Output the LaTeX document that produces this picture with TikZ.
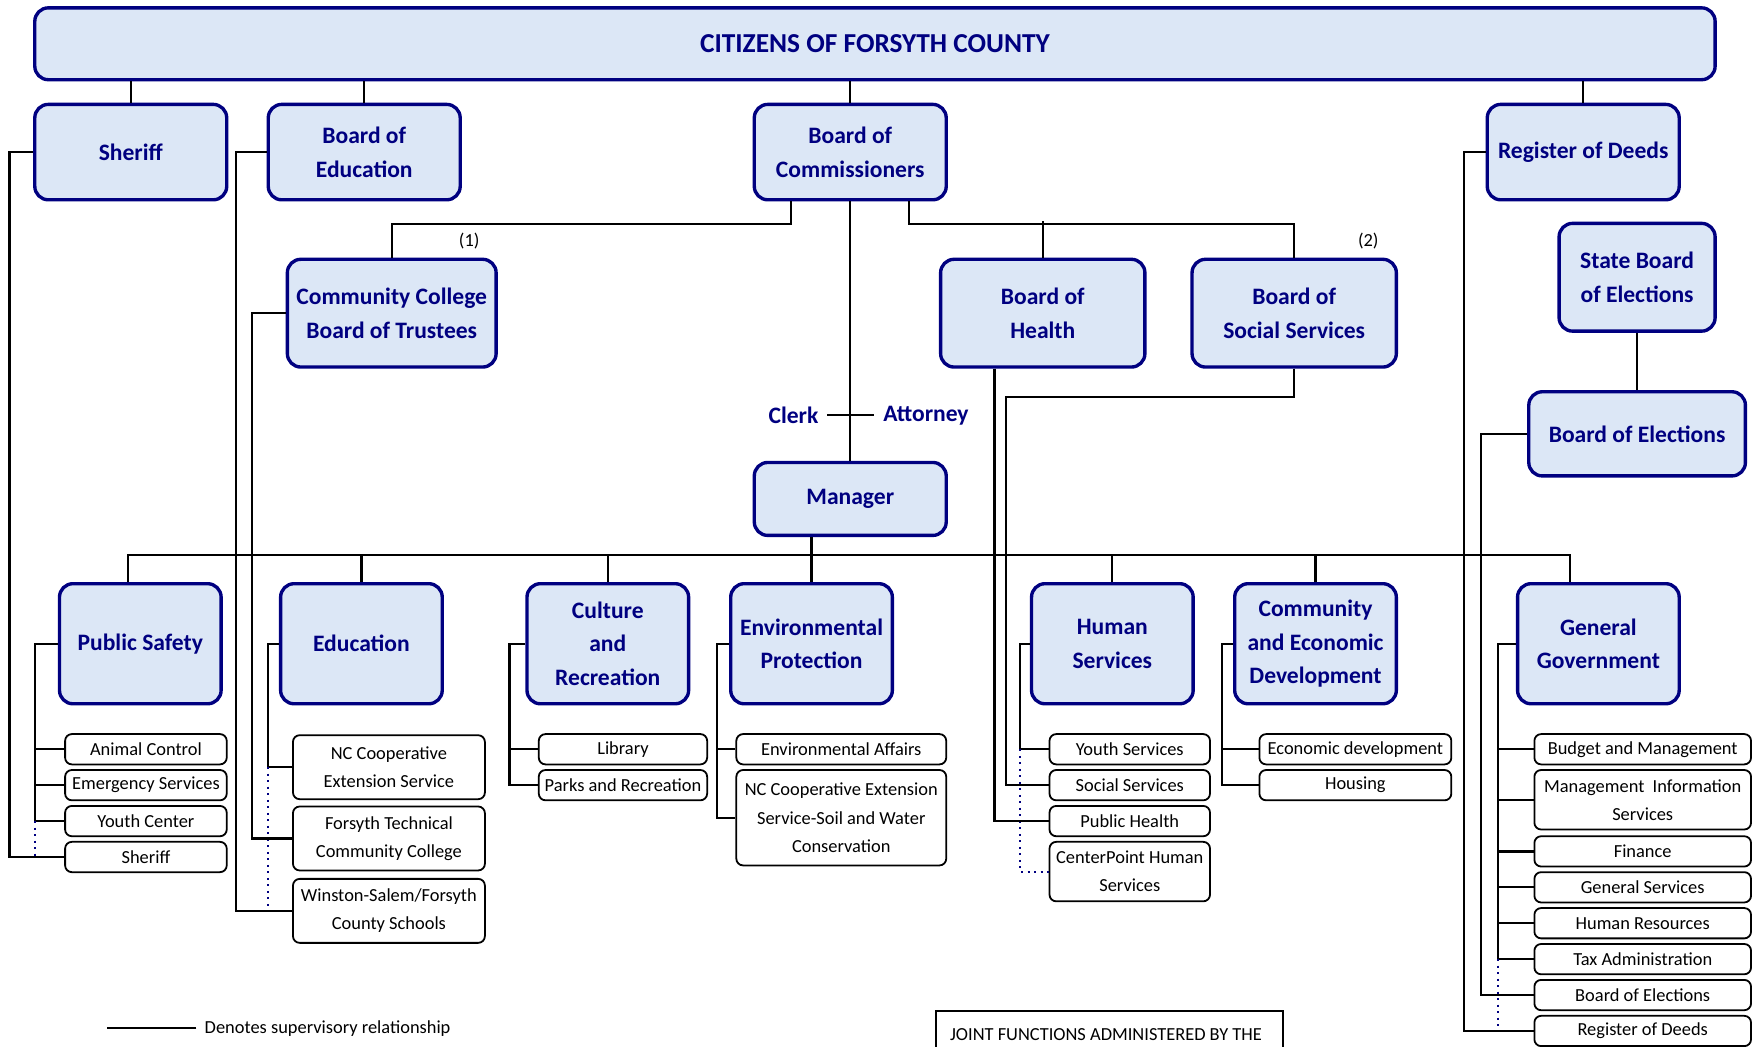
\documentclass[tikz,border=0pt]{standalone}
\usepackage{fontspec}
\setmainfont{Carlito}
\usetikzlibrary{calc}
\definecolor{navyc}{RGB}{0,0,128}
\definecolor{paleblue}{RGB}{220,231,246}
\newcommand{\hdfont}{\fontsize{10.5}{15}\selectfont\bfseries}
\newcommand{\deptfont}{\fontsize{8.2}{12.5}\selectfont}

\begin{document}
\begin{tikzpicture}[x=0.5pt, y=-0.5pt,
	head/.style = {draw=navyc, line width=1.5pt, fill=paleblue, rounded corners=6pt, text=navyc, font=\hdfont, align=center, inner sep=0pt, minimum width=72pt, minimum height=53.5pt},
	board/.style = {head, minimum width=85.5pt, minimum height=42.5pt},
	dept/.style = {draw, line width=0.8pt, rounded corners=3pt, fill=white, font=\deptfont, align=center, inner sep=0pt, minimum height=13.5pt},
	link/.style = {line width=1pt},
	joint/.style = {draw=navyc, line width=0.9pt, dotted}]
	\useasboundingbox (0,0) rectangle (1568,932);

	\node[head, minimum width=748.5pt, minimum height=32pt, font=\fontsize{12.2}{14}\selectfont\bfseries] (top) at (779.5,39) {CITIZENS OF FORSYTH COUNTY};

	\node[board] (sheriff) at (116.5,135.5) {Sheriff};
	\node[board] (boe) at (324.5,135.5) {Board of\\Education};
	\node[board] (boc) at (757.5,135.5) {Board of\\Commissioners};
	\node[board] (rod) at (1410.5,135.5) {Register of Deeds};

	\node[head, minimum width=93pt, minimum height=48pt] (ccb) at (349,279) {Community College\\Board of Trustees};
	\node[head, minimum width=91pt, minimum height=48pt] (boh) at (929,279) {Board of\\Health};
	\node[head, minimum width=91pt, minimum height=48pt] (bss) at (1153,279) {Board of\\Social Services};
	\node[head, minimum width=69.5pt, minimum height=48pt] (sbe) at (1458.5,247) {State Board\\of Elections};
	\node[head, minimum width=96.5pt, minimum height=37.5pt] (bel) at (1458.5,386.5) {Board of Elections};
	\node[font=\deptfont] (n1) at (418,215) {(1)};
	\node[font=\deptfont] (n2) at (1219,215) {(2)};

	\node[head, minimum width=85.5pt, minimum height=32.5pt] (mgr) at (757.5,444.5) {Manager};
	\node[font=\hdfont, text=navyc, inner xsep=3.75pt, anchor=east] (clerk) at (737,370) {Clerk};
	\node[font=\hdfont, text=navyc, inner xsep=3.75pt, anchor=west] (atty) at (779,370) {Attorney};

	\node[head] (ps) at (125,573.5) {Public Safety};
	\node[head] (edu) at (322,573.5) {Education};
	\node[head] (cr) at (541.5,573.5) {Culture\\and\\Recreation};
	\node[head] (ep) at (723,573.5) {Environmental\\Protection};
	\node[head] (hs) at (991,573.5) {Human\\Services};
	\node[head] (ced) at (1172,573.5) {Community\\and Economic\\Development};
	\node[head] (gg) at (1424,573.5) {General\\Government};

	\node[dept, minimum width=72pt] (ac) at (130,667.5) {Animal Control};
	\node[dept, minimum width=72pt] (es) at (130,699.5) {Emergency Services};
	\node[dept, minimum width=72pt] (yc) at (130,731.5) {Youth Center};
	\node[dept, minimum width=72pt] (sh) at (130,763.5) {Sheriff};

	\node[dept, minimum width=85.5pt, minimum height=28.5pt] (nce) at (346.5,683.5) {NC Cooperative\\Extension Service};
	\node[dept, minimum width=85.5pt, minimum height=28.5pt] (ftcc) at (346.5,747) {Forsyth Technical\\Community College};
	\node[dept, minimum width=85.5pt, minimum height=28.5pt] (wsfcs) at (346.5,811.5) {Winston-Salem/Forsyth\\County Schools};

	\node[dept, minimum width=75pt] (lib) at (555,667.5) {Library};
	\node[dept, minimum width=75pt] (pr) at (555,699.5) {Parks and Recreation};

	\node[dept, minimum width=93.5pt] (ea) at (749.5,667.5) {Environmental Affairs};
	\node[dept, minimum width=93.5pt, minimum height=42.5pt] (ncsw) at (749.5,728.5) {NC Cooperative Extension\\Service-Soil and Water\\Conservation};

	\node[dept, minimum width=71.5pt] (ys) at (1006.5,667.5) {Youth Services};
	\node[dept, minimum width=71.5pt] (ss) at (1006.5,699.5) {Social Services};
	\node[dept, minimum width=71.5pt] (ph) at (1006.5,731.5) {Public Health};
	\node[dept, minimum width=71.5pt, minimum height=26.5pt] (cp) at (1006.5,776.5) {CenterPoint Human\\Services};

	\node[dept, minimum width=85.5pt] (ed) at (1207.5,667.5) {Economic development};
	\node[dept, minimum width=85.5pt] (ho) at (1207.5,699.5) {Housing};

	\node[dept, minimum width=96.5pt] (bm) at (1463.5,667.5) {Budget and Management};
	\node[dept, minimum width=96.5pt, minimum height=26.5pt] (mis) at (1463.5,712.5) {Management\ \ Information\\Services};
	\node[dept, minimum width=96.5pt] (fin) at (1463.5,758.5) {Finance};
	\node[dept, minimum width=96.5pt] (gs) at (1463.5,790.5) {General Services};
	\node[dept, minimum width=96.5pt] (hr) at (1463.5,822.5) {Human Resources};
	\node[dept, minimum width=96.5pt] (ta) at (1463.5,854.5) {Tax Administration};
	\node[dept, minimum width=96.5pt] (be) at (1463.5,886.5) {Board of Elections};
	\node[dept, minimum width=96.5pt] (rd) at (1463.5,918.5) {Register of Deeds};

	\node[font=\deptfont, anchor=west, inner xsep=3.5pt] (legend) at (175,916) {Denotes supervisory relationship};
	\node[draw, line width=0.8pt, anchor=north west, minimum width=154.5pt, minimum height=40pt] (jointbox) at (833,900) {};
	\node[font=\deptfont, anchor=west, inner sep=0pt] (jointtext) at ([shift={(6.5pt,-11pt)}]jointbox.north west) {JOINT FUNCTIONS ADMINISTERED BY THE};

	\draw[link] (top.south -| sheriff.north) -- (sheriff.north);
	\draw[link] (top.south -| boe.north) -- (boe.north);
	\draw[link] (top.south -| boc.north) -- (boc.north);
	\draw[link] (top.south -| rod.north) -- (rod.north);

	\draw[link] ([xshift=-26.25pt]boc.south) -- ++(0,20) -| (ccb.north);
	\draw[link] ([xshift=26.25pt]boc.south) -- ++(0,20) -| (bss.north);
	\draw[link] (boh.north) -- ++(0,-33);
	\draw[link] (boc.south) -- (mgr.north);
	\draw[link] (clerk.east) -- (atty.west);
	\draw[link] (sbe.south) -- (bel.north);

	\draw[link] ([xshift=-17.25pt]mgr.south) -- ++(0,16) coordinate (bus);
	\draw[link] ([xshift=-5.5pt]ps.north) |- (bus);
	\draw[link] ([xshift=-12.5pt]gg.north) |- (bus);
	\foreach \d in {edu,cr,ep,hs,ced}
		\draw[link] (\d.north) -- (\d.north |- bus);

	\draw[link] (ps.west) -- ++(-20,0) coordinate (psj) |- (yc.west);
	\foreach \d in {ac,es}
		\draw[link] (\d.west) -- (\d.west -| psj);
	\draw[joint] (yc.west -| psj) -- (sh.west -| psj);
	\draw[link] (sheriff.west) -- ++(-21,0) |- (sh.west);

	\draw[link] (edu.west) -- ++(-10,0) coordinate (eduj) |- (nce.west);
	\draw[joint] (nce.west -| eduj) -- (wsfcs.west -| eduj);
	\draw[link] (ccb.west) -- ++(-30,0) |- (ftcc.west);
	\draw[link] (boe.west) -- ++(-27,0) |- (wsfcs.west);

	\draw[link] (cr.west) -- ++(-14,0) coordinate (crj) |- (pr.west);
	\draw[link] (lib.west) -- (lib.west -| crj);

	\draw[link] (ep.west) -- ++(-11,0) coordinate (epj) |- (ncsw.west);
	\draw[link] (ea.west) -- (ea.west -| epj);

	\draw[link] (hs.west) -- ++(-9,0) coordinate (hsj) |- (ys.west);
	\draw[joint] (ys.west -| hsj) |- (cp.west);
	\draw[link] ([xshift=-21.5pt]boh.south) |- (ph.west);
	\draw[link] (bss.south) -- ++(0,25) -| ([xshift=-19pt]ss.west) -- (ss.west);

	\draw[link] (ced.west) -- ++(-10,0) coordinate (cedj) |- (ho.west);
	\draw[link] (ed.west) -- (ed.west -| cedj);

	\draw[link] (gg.west) -- ++(-16,0) coordinate (ggj) |- (ta.west);
	\foreach \d in {bm,mis,fin,gs,hr}
		\draw[link] (\d.west) -- (\d.west -| ggj);
	\draw[joint] (ta.west -| ggj) -- (rd.west -| ggj);
	\draw[link] (bel.west) -- ++(-41,0) |- (be.west);
	\draw[link] (rod.west) -- ++(-19,0) |- (rd.west);

	\draw[link] (legend.west) -- ++(-80,0);

\end{tikzpicture}
\end{document}
